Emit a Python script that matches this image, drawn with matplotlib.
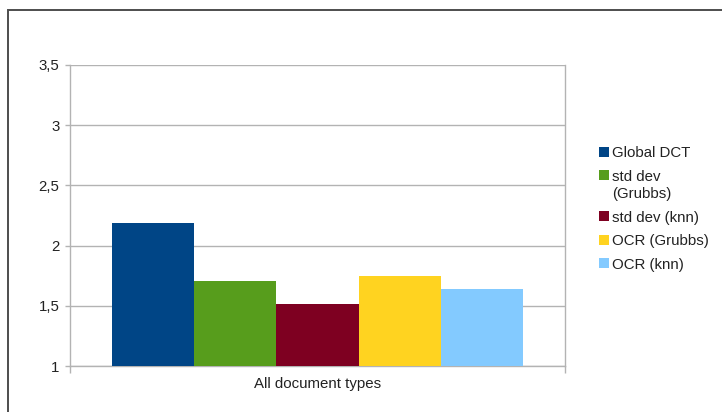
import matplotlib
matplotlib.use("Agg")
import matplotlib.pyplot as plt
from matplotlib.patches import Rectangle
import numpy as np

plt.rcParams['font.family'] = ['Liberation Sans', 'DejaVu Sans']

categories = ["All document types"]
series_names = ["Global DCT", "std dev\n(Grubbs)", "std dev (knn)", "OCR (Grubbs)", "OCR (knn)"]
series_values = [2.19, 1.706, 1.518, 1.748, 1.64]
series_colors = ["#004586", "#579d1c", "#7e0021", "#ffd320", "#83caff"]
y_ticks = [1, 1.5, 2, 2.5, 3, 3.5]
y_tick_labels = ["1", "1,5", "2", "2,5", "3", "3,5"]

W, H = 722, 412
fig = plt.figure(figsize=(W / 100, H / 100), dpi=100)

def fx(px):
    return px / W

def fy(py):
    return 1 - py / H

# outer frame
fig.add_artist(Rectangle((fx(8), fy(H + 20)), fx(W + 20) - fx(8), fy(10) - fy(H + 20),
                         transform=fig.transFigure, fill=False, edgecolor="#4d4d4d",
                         linewidth=1.4))

ax = fig.add_axes([fx(70), fy(366), fx(565) - fx(70), fy(65) - fy(366)])
grid_c = "#b3b3b3"

n = len(series_values)
group = 0.832
bw = group / n
x0 = np.arange(len(categories))
for i, (v, c) in enumerate(zip(series_values, series_colors)):
    ax.bar(x0 + (i - (n - 1) / 2) * bw, [v - 1], bottom=1, width=bw, color=c,
           zorder=3, linewidth=0)

ax.set_xlim(-0.5, 0.5)
ax.set_ylim(1, 3.5)
ax.set_yticks(y_ticks)
ax.set_yticklabels(y_tick_labels)
ax.yaxis.grid(True, color=grid_c, linewidth=1.0, zorder=0)
ax.set_axisbelow(True)
ax.tick_params(axis='y', length=3.6, width=1, color=grid_c, pad=4,
               labelsize=10.8, labelcolor="#222222")
ax.set_xticks(x0)
ax.set_xticklabels(categories)
ax.tick_params(axis='x', which='major', length=0, pad=8, labelsize=10.8,
               labelcolor="#222222")
ax.set_xticks([-0.5, 0.5], minor=True)
ax.tick_params(axis='x', which='minor', length=5, width=1, color=grid_c)
for s in ['left', 'right', 'bottom']:
    ax.spines[s].set_color(grid_c)
    ax.spines[s].set_linewidth(1.0)
ax.spines['top'].set_visible(False)

# legend
y_center = 151.7
entry_gap = 23.5
line_gap = 17.6
for name, c in zip(series_names, series_colors):
    lines = name.split("\n")
    fig.add_artist(Rectangle((fx(598.5), fy(y_center + 5)), fx(608.5) - fx(598.5),
                             fy(y_center - 5) - fy(y_center + 5),
                             transform=fig.transFigure, facecolor=c, edgecolor="none"))
    for k, ln in enumerate(lines):
        yc = y_center + k * line_gap
        fig.text(fx(612), fy(yc + 5.4), ln, fontsize=10.8, color="#222222",
                 ha='left', va='baseline')
    y_center += entry_gap + (len(lines) - 1) * line_gap

fig.savefig("out.png", dpi=100)
